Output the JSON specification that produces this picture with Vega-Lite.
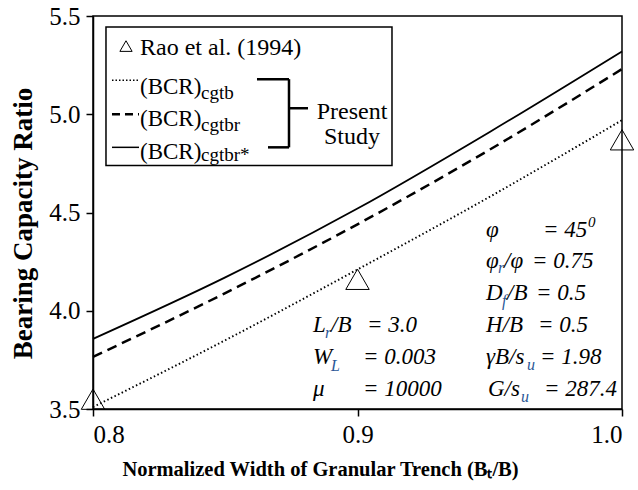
{
  "$schema": "https://vega.github.io/schema/vega-lite/v6.json",
  "width": 529,
  "height": 393,
  "autosize": {"type": "none"},
  "padding": {"left": 93, "top": 16, "right": 16, "bottom": 81},
  "background": "white",
  "config": {
    "view": {"stroke": "black", "strokeWidth": 1.5},
    "axis": {
      "labelFont": "Liberation Serif", "labelFontSize": 25, "labelColor": "black",
      "titleFont": "Liberation Serif", "titleFontWeight": "bold", "titleColor": "black",
      "domainColor": "black", "domainWidth": 1.5, "tickColor": "black", "tickWidth": 1.5,
      "tickSize": 7, "grid": false
    },
    "text": {"font": "Liberation Serif", "color": "black", "align": "left", "baseline": "alphabetic"}
  },
  "data": {"values": [{}]},
  "datasets": {
    "curves": [
      {"x": 0.8, "bcr": 3.51, "series": "cgtb"},
      {"x": 0.85, "bcr": 3.85, "series": "cgtb"},
      {"x": 0.9, "bcr": 4.21, "series": "cgtb"},
      {"x": 0.95, "bcr": 4.58, "series": "cgtb"},
      {"x": 1.0, "bcr": 4.97, "series": "cgtb"},
      {"x": 0.8, "bcr": 3.765, "series": "cgtbr"},
      {"x": 0.85, "bcr": 4.09, "series": "cgtbr"},
      {"x": 0.9, "bcr": 4.44, "series": "cgtbr"},
      {"x": 0.95, "bcr": 4.82, "series": "cgtbr"},
      {"x": 1.0, "bcr": 5.23, "series": "cgtbr"},
      {"x": 0.8, "bcr": 3.857, "series": "cgtbr*"},
      {"x": 0.85, "bcr": 4.17, "series": "cgtbr*"},
      {"x": 0.9, "bcr": 4.52, "series": "cgtbr*"},
      {"x": 0.95, "bcr": 4.91, "series": "cgtbr*"},
      {"x": 1.0, "bcr": 5.32, "series": "cgtbr*"}
    ],
    "rao": [
      {"x": 0.8, "bcr": 3.55},
      {"x": 0.9, "bcr": 4.16},
      {"x": 1.0, "bcr": 4.87}
    ]
  },
  "layer": [
    {
      "data": {"name": "curves"},
      "transform": [{"filter": "datum.series === 'cgtb'"}],
      "mark": {"type": "line", "color": "black", "strokeWidth": 1.9, "strokeDash": [1.5, 2.5], "interpolate": "monotone"},
      "encoding": {
        "x": {"field": "x", "type": "quantitative", "scale": {"domain": [0.8, 1.0], "nice": false},
              "axis": {"values": [0.8, 0.9, 1.0], "format": ".1f", "labelPadding": 6, "titleFontSize": 20.5, "titlePadding": 12,
                       "titleX": 227, "titleAnchor": "middle",
                       "title": "Normalized Width of Granular Trench (Bₜ/B)"}},
        "y": {"field": "bcr", "type": "quantitative", "scale": {"domain": [3.5, 5.5], "nice": false, "zero": false},
              "axis": {"values": [3.5, 4.0, 4.5, 5.0, 5.5], "format": ".1f", "labelPadding": 6, "titleFontSize": 27, "titlePadding": 11,
                       "titleY": 207, "titleAnchor": "middle",
                       "title": "Bearing Capacity Ratio"}}
      }
    },
    {
      "data": {"name": "curves"},
      "transform": [{"filter": "datum.series === 'cgtbr'"}],
      "mark": {"type": "line", "color": "black", "strokeWidth": 2.5, "strokeDash": [10, 6], "interpolate": "monotone"},
      "encoding": {"x": {"field": "x", "type": "quantitative"}, "y": {"field": "bcr", "type": "quantitative"}}
    },
    {
      "data": {"name": "curves"},
      "transform": [{"filter": "datum.series === 'cgtbr*'"}],
      "mark": {"type": "line", "color": "black", "strokeWidth": 1.8, "interpolate": "monotone"},
      "encoding": {"x": {"field": "x", "type": "quantitative"}, "y": {"field": "bcr", "type": "quantitative"}}
    },
    {
      "data": {"name": "rao"},
      "mark": {"type": "point", "shape": "triangle-up", "filled": false, "stroke": "black", "strokeWidth": 1, "size": 550, "opacity": 1},
      "encoding": {"x": {"field": "x", "type": "quantitative"}, "y": {"field": "bcr", "type": "quantitative"}}
    },
    {
      "mark": {"type": "rect", "fill": "white", "stroke": "black", "strokeWidth": 1.5},
      "encoding": {"x": {"datum": 0.80491, "type": "quantitative"}, "x2": {"datum": 0.91304}, "y": {"datum": 5.4439, "type": "quantitative"}, "y2": {"datum": 4.7398}}
    },
    {
      "mark": {"type": "point", "shape": "triangle-up", "filled": false, "stroke": "black", "strokeWidth": 1, "size": 150, "opacity": 1},
      "encoding": {"x": {"datum": 0.81248, "type": "quantitative"}, "y": {"datum": 5.34694, "type": "quantitative"}}
    },
    {
      "mark": {"type": "text", "text": "Rao et al. (1994)", "fontSize": 24},
      "encoding": {"x": {"datum": 0.81777, "type": "quantitative"}, "y": {"datum": 5.30102, "type": "quantitative"}}
    },
    {
      "mark": {"type": "rule", "color": "black", "strokeWidth": 1.5, "strokeDash": [1.5, 2]},
      "encoding": {"x": {"datum": 0.80718, "type": "quantitative"}, "x2": {"datum": 0.81739}, "y": {"datum": 5.17347, "type": "quantitative"}}
    },
    {
      "mark": {"type": "rule", "color": "black", "strokeWidth": 2.5, "strokeDash": [8, 5]},
      "encoding": {"x": {"datum": 0.80718, "type": "quantitative"}, "x2": {"datum": 0.81739}, "y": {"datum": 5.0, "type": "quantitative"}}
    },
    {
      "mark": {"type": "rule", "color": "black", "strokeWidth": 1.5},
      "encoding": {"x": {"datum": 0.80718, "type": "quantitative"}, "x2": {"datum": 0.81739}, "y": {"datum": 4.83163, "type": "quantitative"}}
    },
    {
      "mark": {"type": "text", "text": "(BCR)", "fontSize": 23},
      "encoding": {"x": {"datum": 0.81777, "type": "quantitative"}, "y": {"datum": 5.10204, "type": "quantitative"}}
    },
    {
      "mark": {"type": "text", "text": "cgtb", "fontSize": 19, "dx": 61, "dy": 5},
      "encoding": {"x": {"datum": 0.81777, "type": "quantitative"}, "y": {"datum": 5.10204, "type": "quantitative"}}
    },
    {
      "mark": {"type": "text", "text": "(BCR)", "fontSize": 23},
      "encoding": {"x": {"datum": 0.81777, "type": "quantitative"}, "y": {"datum": 4.93878, "type": "quantitative"}}
    },
    {
      "mark": {"type": "text", "text": "cgtbr", "fontSize": 19, "dx": 61, "dy": 5},
      "encoding": {"x": {"datum": 0.81777, "type": "quantitative"}, "y": {"datum": 4.93878, "type": "quantitative"}}
    },
    {
      "mark": {"type": "text", "text": "(BCR)", "fontSize": 23},
      "encoding": {"x": {"datum": 0.81777, "type": "quantitative"}, "y": {"datum": 4.77041, "type": "quantitative"}}
    },
    {
      "mark": {"type": "text", "text": "cgtbr*", "fontSize": 19, "dx": 61, "dy": 2},
      "encoding": {"x": {"datum": 0.81777, "type": "quantitative"}, "y": {"datum": 4.77041, "type": "quantitative"}}
    },
    {
      "mark": {"type": "rule", "color": "black", "strokeWidth": 2.5},
      "encoding": {"x": {"datum": 0.862, "type": "quantitative"}, "x2": {"datum": 0.8741}, "y": {"datum": 5.17857, "type": "quantitative"}}
    },
    {
      "mark": {"type": "rule", "color": "black", "strokeWidth": 2.5},
      "encoding": {"x": {"datum": 0.86616, "type": "quantitative"}, "x2": {"datum": 0.8741}, "y": {"datum": 4.83163, "type": "quantitative"}}
    },
    {
      "mark": {"type": "rule", "color": "black", "strokeWidth": 2.5},
      "encoding": {"x": {"datum": 0.8741, "type": "quantitative"}, "y": {"datum": 5.17857, "type": "quantitative"}, "y2": {"datum": 4.83163}}
    },
    {
      "mark": {"type": "rule", "color": "black", "strokeWidth": 2.5},
      "encoding": {"x": {"datum": 0.8741, "type": "quantitative"}, "x2": {"datum": 0.88129}, "y": {"datum": 5.03061, "type": "quantitative"}}
    },
    {
      "mark": {"type": "text", "text": "Present", "fontSize": 24, "align": "center"},
      "encoding": {"x": {"datum": 0.89792, "type": "quantitative"}, "y": {"datum": 4.97449, "type": "quantitative"}}
    },
    {
      "mark": {"type": "text", "text": "Study", "fontSize": 24, "align": "center"},
      "encoding": {"x": {"datum": 0.89792, "type": "quantitative"}, "y": {"datum": 4.84694, "type": "quantitative"}}
    },

    {"mark": {"type": "text", "text": "φ", "fontSize": 23, "fontStyle": "italic"},
     "encoding": {"x": {"datum": 0.94858, "type": "quantitative"}, "y": {"datum": 4.37755, "type": "quantitative"}}},
    {"mark": {"type": "text", "text": "= 45", "fontSize": 23, "fontStyle": "italic", "dx": 57},
     "encoding": {"x": {"datum": 0.94858, "type": "quantitative"}, "y": {"datum": 4.37755, "type": "quantitative"}}},
    {"mark": {"type": "text", "text": "0", "fontSize": 15, "fontStyle": "italic", "dx": 102, "dy": -10},
     "encoding": {"x": {"datum": 0.94858, "type": "quantitative"}, "y": {"datum": 4.37755, "type": "quantitative"}}},

    {"mark": {"type": "text", "text": "φ", "fontSize": 23, "fontStyle": "italic"},
     "encoding": {"x": {"datum": 0.94858, "type": "quantitative"}, "y": {"datum": 4.21939, "type": "quantitative"}}},
    {"mark": {"type": "text", "text": "r", "fontSize": 16, "fontStyle": "italic", "color": "#2b5797", "dx": 12, "dy": 5},
     "encoding": {"x": {"datum": 0.94858, "type": "quantitative"}, "y": {"datum": 4.21939, "type": "quantitative"}}},
    {"mark": {"type": "text", "text": "/φ", "fontSize": 23, "fontStyle": "italic", "dx": 18},
     "encoding": {"x": {"datum": 0.94858, "type": "quantitative"}, "y": {"datum": 4.21939, "type": "quantitative"}}},
    {"mark": {"type": "text", "text": "= 0.75", "fontSize": 23, "fontStyle": "italic", "dx": 46},
     "encoding": {"x": {"datum": 0.94858, "type": "quantitative"}, "y": {"datum": 4.21939, "type": "quantitative"}}},

    {"mark": {"type": "text", "text": "D", "fontSize": 23, "fontStyle": "italic"},
     "encoding": {"x": {"datum": 0.94858, "type": "quantitative"}, "y": {"datum": 4.05612, "type": "quantitative"}}},
    {"mark": {"type": "text", "text": "f", "fontSize": 16, "fontStyle": "italic", "color": "#2b5797", "dx": 16, "dy": 6},
     "encoding": {"x": {"datum": 0.94858, "type": "quantitative"}, "y": {"datum": 4.05612, "type": "quantitative"}}},
    {"mark": {"type": "text", "text": "/B", "fontSize": 23, "fontStyle": "italic", "dx": 21},
     "encoding": {"x": {"datum": 0.94858, "type": "quantitative"}, "y": {"datum": 4.05612, "type": "quantitative"}}},
    {"mark": {"type": "text", "text": "= 0.5", "fontSize": 23, "fontStyle": "italic", "dx": 50},
     "encoding": {"x": {"datum": 0.94858, "type": "quantitative"}, "y": {"datum": 4.05612, "type": "quantitative"}}},

    {"mark": {"type": "text", "text": "H/B", "fontSize": 23, "fontStyle": "italic"},
     "encoding": {"x": {"datum": 0.94858, "type": "quantitative"}, "y": {"datum": 3.89286, "type": "quantitative"}}},
    {"mark": {"type": "text", "text": "= 0.5", "fontSize": 23, "fontStyle": "italic", "dx": 52},
     "encoding": {"x": {"datum": 0.94858, "type": "quantitative"}, "y": {"datum": 3.89286, "type": "quantitative"}}},

    {"mark": {"type": "text", "text": "γB/s", "fontSize": 23, "fontStyle": "italic"},
     "encoding": {"x": {"datum": 0.94858, "type": "quantitative"}, "y": {"datum": 3.72959, "type": "quantitative"}}},
    {"mark": {"type": "text", "text": "u", "fontSize": 16, "fontStyle": "italic", "color": "#2b5797", "dx": 41, "dy": 6},
     "encoding": {"x": {"datum": 0.94858, "type": "quantitative"}, "y": {"datum": 3.72959, "type": "quantitative"}}},
    {"mark": {"type": "text", "text": "= 1.98", "fontSize": 23, "fontStyle": "italic", "dx": 54},
     "encoding": {"x": {"datum": 0.94858, "type": "quantitative"}, "y": {"datum": 3.72959, "type": "quantitative"}}},

    {"mark": {"type": "text", "text": "G/s", "fontSize": 23, "fontStyle": "italic", "dx": 2},
     "encoding": {"x": {"datum": 0.94858, "type": "quantitative"}, "y": {"datum": 3.56633, "type": "quantitative"}}},
    {"mark": {"type": "text", "text": "u", "fontSize": 16, "fontStyle": "italic", "color": "#2b5797", "dx": 35, "dy": 6},
     "encoding": {"x": {"datum": 0.94858, "type": "quantitative"}, "y": {"datum": 3.56633, "type": "quantitative"}}},
    {"mark": {"type": "text", "text": "= 287.4", "fontSize": 23, "fontStyle": "italic", "dx": 58},
     "encoding": {"x": {"datum": 0.94858, "type": "quantitative"}, "y": {"datum": 3.56633, "type": "quantitative"}}},

    {"mark": {"type": "text", "text": "L", "fontSize": 23, "fontStyle": "italic"},
     "encoding": {"x": {"datum": 0.88318, "type": "quantitative"}, "y": {"datum": 3.89286, "type": "quantitative"}}},
    {"mark": {"type": "text", "text": "r", "fontSize": 16, "fontStyle": "italic", "color": "#2b5797", "dx": 12, "dy": 6},
     "encoding": {"x": {"datum": 0.88318, "type": "quantitative"}, "y": {"datum": 3.89286, "type": "quantitative"}}},
    {"mark": {"type": "text", "text": "/B", "fontSize": 23, "fontStyle": "italic", "dx": 18},
     "encoding": {"x": {"datum": 0.88318, "type": "quantitative"}, "y": {"datum": 3.89286, "type": "quantitative"}}},
    {"mark": {"type": "text", "text": "= 3.0", "fontSize": 23, "fontStyle": "italic", "dx": 54},
     "encoding": {"x": {"datum": 0.88318, "type": "quantitative"}, "y": {"datum": 3.89286, "type": "quantitative"}}},

    {"mark": {"type": "text", "text": "W", "fontSize": 23, "fontStyle": "italic"},
     "encoding": {"x": {"datum": 0.88318, "type": "quantitative"}, "y": {"datum": 3.72959, "type": "quantitative"}}},
    {"mark": {"type": "text", "text": "L", "fontSize": 16, "fontStyle": "italic", "color": "#2b5797", "dx": 18, "dy": 7},
     "encoding": {"x": {"datum": 0.88318, "type": "quantitative"}, "y": {"datum": 3.72959, "type": "quantitative"}}},
    {"mark": {"type": "text", "text": "= 0.003", "fontSize": 23, "fontStyle": "italic", "dx": 50},
     "encoding": {"x": {"datum": 0.88318, "type": "quantitative"}, "y": {"datum": 3.72959, "type": "quantitative"}}},

    {"mark": {"type": "text", "text": "μ", "fontSize": 23, "fontStyle": "italic"},
     "encoding": {"x": {"datum": 0.88318, "type": "quantitative"}, "y": {"datum": 3.56633, "type": "quantitative"}}},
    {"mark": {"type": "text", "text": "= 10000", "fontSize": 23, "fontStyle": "italic", "dx": 50},
     "encoding": {"x": {"datum": 0.88318, "type": "quantitative"}, "y": {"datum": 3.56633, "type": "quantitative"}}}
  ]
}
